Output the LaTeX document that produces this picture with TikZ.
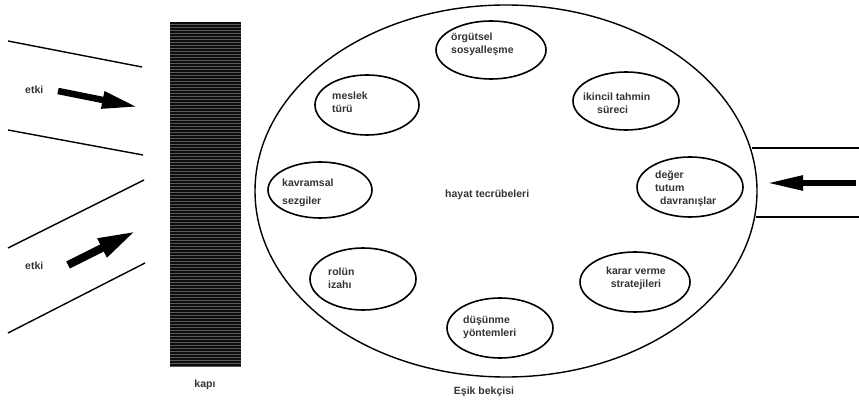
\documentclass[tikz,border=0pt]{standalone}
\usepackage{fontspec}
\setmainfont{Liberation Sans}
\usetikzlibrary{shapes.geometric,arrows.meta}

\tikzset{
  balon/.style={draw, ellipse, line width=1.6pt, inner sep=0pt},
  yazi/.style={font=\bfseries\fontsize{10.5}{13}\selectfont, text=black!80, align=left, inner sep=0pt, anchor=west},
  kalinok/.style={line width=6.5pt, -{Triangle[length=36pt,width=16pt]}},
  kanal/.style={line width=1.4pt},
}

\begin{document}
\begin{tikzpicture}[x=1pt,y=-1pt]
      \useasboundingbox (0,0) rectangle (859,403);

      % Kapi
      \fill[black!95] (170,22) rectangle (241,367);
      \foreach \y in {24,27,...,366} {
          \draw[black!65, line width=0.25pt] (170,\y) -- (241,\y);
      }
      \node[yazi, anchor=center] (kapi) at (205,385) {kapı};

      % Sol kanallar
      \draw[kanal] (8,41) -- (142,67);
      \draw[kanal] (8,130) -- (143,155);
      \draw[kanal] (8,248) -- (144,180);
      \draw[kanal] (8,333) -- (145,263);

      % Etki oklari
      \node[yazi] (etki1) at (25,90) {etki};
      \node[yazi] (etki2) at (25,266) {etki};
      \coordinate (e1a) at (58,91);
      \coordinate (e1b) at (138,107);
      \coordinate (e2a) at (68,265);
      \coordinate (e2b) at (136,231);
      \draw[kalinok] (e1a) -- (e1b);
      \draw[kalinok, line width=8pt, -{Triangle[length=38pt,width=19pt]}] (e2a) -- (e2b);

      % Esik bekcisi
      \node[draw, ellipse, line width=1.4pt, inner sep=0pt,
            minimum width=502pt, minimum height=372pt] (esik) at (506,191) {};
      \node[yazi] (hayat) at (445,195) {hayat tecrübeleri};
      \node[yazi, anchor=center] (bekci) at (484,392) {Eşik bekçisi};

      % Sag kanal
      \draw[kanal] (752,148) -- (859,148);
      \draw[kanal] (756,217) -- (859,217);
      \coordinate (s1a) at (856,183);
      \coordinate (s1b) at (767,183);
      \draw[kalinok, line width=5.5pt, -{Triangle[length=36pt,width=14pt]}] (s1a) -- (s1b);

      % Balonlar
      \node[balon, minimum width=110pt, minimum height=58pt] (orgutsel) at (491,50) {};
      \node[balon, minimum width=104pt, minimum height=60pt] (meslek) at (367,105) {};
      \node[balon, minimum width=104pt, minimum height=56pt] (kavramsal) at (320,190) {};
      \node[balon, minimum width=106pt, minimum height=58pt] (ikincil) at (626,101) {};
      \node[balon, minimum width=106pt, minimum height=60pt] (deger) at (690,187) {};
      \node[balon, minimum width=106pt, minimum height=62pt] (rolun) at (363,279) {};
      \node[balon, minimum width=106pt, minimum height=60pt] (dusunme) at (500,328) {};
      \node[balon, minimum width=110pt, minimum height=60pt] (karar) at (635,282) {};

      % Balon yazilari
      \node[yazi] (orgutselyazi) at (451,44.5) {örgütsel\\sosyalleşme};
      \node[yazi] (meslekyazi) at (332,102) {meslek\\türü};
      \node[yazi] (kavramsalyazi) at (282,192.5) {kavramsal\\[5pt]sezgiler};
      \node[yazi] (ikincilyazi) at (583,103.5) {ikincil tahmin\\\hspace*{14pt}süreci};
      \node[yazi] (degeryazi) at (655,188.5) {değer\\tutum\\\hspace*{5pt}davranışlar};
      \node[yazi] (rolunyazi) at (328,278.5) {rolün\\izahı};
      \node[yazi] (dusunmeyazi) at (463,327) {düşünme\\yöntemleri};
      \node[yazi, align=center, anchor=center] (kararyazi) at (636,278) {karar verme\\stratejileri};
\end{tikzpicture}
\end{document}
